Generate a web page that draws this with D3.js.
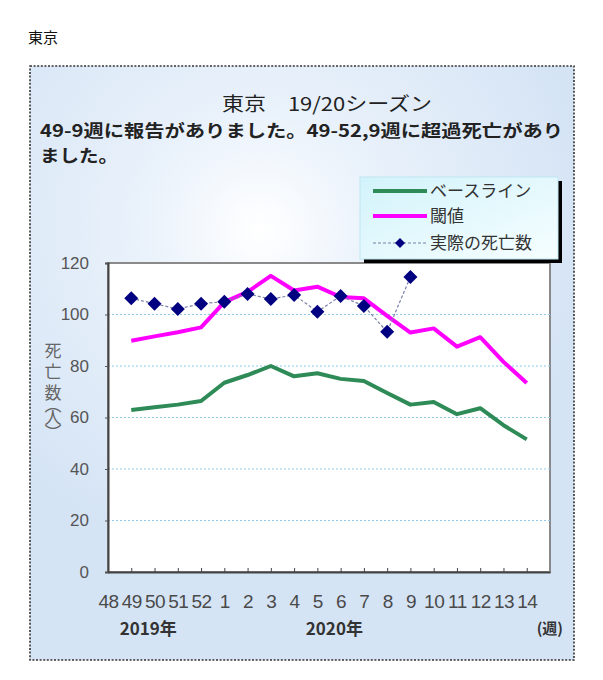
<!DOCTYPE html>
<html><head><meta charset="utf-8">
<script src="https://cdn.jsdelivr.net/npm/d3@7"></script>
<style>
html,body{margin:0;padding:0;background:#fff;}
svg{display:block;}
</style></head>
<body>
<svg id="chart" width="603" height="680"></svg>
<script>
// ---- data ----
const weeks = ["48","49","50","51","52","1","2","3","4","5","6","7","8","9","10","11","12","13","14"];
const baselineWeeks = ["49","50","51","52","1","2","3","4","5","6","7","8","9","10","11","12","13","14"];
const baselineValues = [62.9,64.0,65.0,66.4,73.5,76.5,80.0,76.0,77.2,75.0,74.2,69.5,65.0,66.0,61.3,63.6,57.0,51.5];
const thresholdValues = [89.8,91.5,93.1,95.0,104.8,108.8,115.0,109.3,110.8,106.8,106.3,99.5,93.0,94.6,87.5,91.2,81.6,73.4];
const actualWeeks = ["49","50","51","52","1","2","3","4","5","6","7","8","9"];
const actualValues = [106.3,104.2,102.1,104.2,105.0,108.0,106.0,107.6,101.1,107.2,103.3,93.3,114.6];
const yTicks = [0,20,40,60,80,100,120];
const seriesNames = ["ベースライン","閾値","実際の死亡数"];
const yearLabels = [{week:"49", text:"2019年"},{week:"5", text:"2020年"}];

const svg = d3.select("#chart");
const plot = {left:108, right:550, top:263, bottom:572};
const jp = "'Noto Sans CJK JP', sans-serif";
const num = "'Liberation Sans', Arial, sans-serif";

const defs = svg.append("defs");
const bg = defs.append("radialGradient").attr("id","bgGrad")
  .attr("gradientUnits","userSpaceOnUse").attr("cx",260).attr("cy",230).attr("r",330);
bg.append("stop").attr("offset","0").attr("stop-color","#ffffff");
bg.append("stop").attr("offset","0.35").attr("stop-color","#eaf2fb");
bg.append("stop").attr("offset","1").attr("stop-color","#d5e4f5");
const lg = defs.append("linearGradient").attr("id","legGrad").attr("x1","0").attr("y1","0").attr("x2","1").attr("y2","1");
lg.append("stop").attr("offset","0").attr("stop-color","#d2f3fb");
lg.append("stop").attr("offset","1").attr("stop-color","#f6feff");

// page heading
svg.append("text").attr("x",28).attr("y",43).attr("font-family",jp).attr("font-size",15)
  .attr("fill","#111").text("東京");

// chart box
svg.append("rect").attr("x",30).attr("y",66).attr("width",544).attr("height",594)
  .attr("fill","url(#bgGrad)").attr("stroke","#333").attr("stroke-width",1.6)
  .attr("stroke-dasharray","2,1.6");

// title and subtitle
svg.append("text").attr("x",327).attr("y",111).attr("text-anchor","middle")
  .attr("font-family",jp).attr("font-size",19).attr("fill","#222")
  .attr("textLength",210).attr("lengthAdjust","spacingAndGlyphs")
  .text("東京　19/20シーズン");
svg.append("text").attr("x",40).attr("y",137).attr("font-family",jp).attr("font-size",17)
  .attr("font-weight",700).attr("fill","#222")
  .attr("textLength",523).attr("lengthAdjust","spacingAndGlyphs")
  .text("49-9週に報告がありました。49-52,9週に超過死亡があり");
svg.append("text").attr("x",40).attr("y",162).attr("font-family",jp).attr("font-size",17)
  .attr("font-weight",700).attr("fill","#222")
  .attr("textLength",78).attr("lengthAdjust","spacingAndGlyphs").text("ました。");

// scales
const x = d3.scalePoint().domain(weeks).range([plot.left, plot.right]).padding(0.5).align(0);
const y = d3.scaleLinear().domain([0,120]).range([plot.bottom, plot.top]);

// plot area
svg.append("rect").attr("x",plot.left).attr("y",plot.top)
  .attr("width",plot.right-plot.left).attr("height",plot.bottom-plot.top)
  .attr("fill","#fff").attr("stroke","#8a8a8a").attr("stroke-width",2);

// gridlines
svg.append("g").selectAll("line").data(yTicks.filter(d=>d>0 && d<120)).join("line")
  .attr("x1",plot.left).attr("x2",plot.right).attr("y1",d=>y(d)).attr("y2",d=>y(d))
  .attr("stroke","#8fcbe8").attr("stroke-width",1).attr("stroke-dasharray","2,2");

// y axis
const yAxis = svg.append("g").attr("transform",`translate(${plot.left},0)`)
  .call(d3.axisLeft(y).tickValues(yTicks).tickSize(3).tickPadding(16));
yAxis.select(".domain").attr("stroke","#444").attr("stroke-width",2);
yAxis.selectAll(".tick line").attr("stroke","#555");
yAxis.selectAll(".tick text").attr("font-family",num).attr("font-size",17).attr("fill","#555");

// x axis
const xAxis = svg.append("g").attr("transform",`translate(0,${plot.bottom})`)
  .call(d3.axisBottom(x).tickSize(-4).tickPadding(23).tickSizeOuter(0));
xAxis.select(".domain").attr("stroke","#444").attr("stroke-width",2);
xAxis.selectAll(".tick line").attr("stroke","#444");
xAxis.selectAll(".tick text").attr("font-family",num).attr("font-size",19).attr("fill","#4a4a4a")
  .attr("letter-spacing","-0.5");

// year labels
svg.append("g").selectAll("text").data(yearLabels).join("text")
  .attr("x",d=>x(d.week)+17).attr("y",635).attr("text-anchor","middle")
  .attr("font-family",jp).attr("font-size",17).attr("font-weight",700).attr("fill","#333")
  .text(d=>d.text);
svg.append("text").attr("x",563).attr("y",634).attr("text-anchor","end")
  .attr("font-family",jp).attr("font-size",15).attr("font-weight",700).attr("fill","#333").text("(週)");

// y axis title (vertical text)
const yTitle = svg.append("text").attr("x",53).attr("y",342)
  .attr("font-family",jp).attr("font-size",17).attr("fill","#666")
  .style("writing-mode","vertical-rl").style("text-orientation","upright");
yTitle.append("tspan").attr("letter-spacing","4").text("死亡");
yTitle.append("tspan").attr("letter-spacing","-5").text("数");
yTitle.append("tspan").attr("letter-spacing","-4").text("（");
yTitle.append("tspan").attr("letter-spacing","-2").text("人");
yTitle.append("tspan").text("）");

// lines
const line = d3.line().x(d=>x(d.w)).y(d=>y(d.v));
const baseData = baselineWeeks.map((w,i)=>({w, v:baselineValues[i]}));
const threshData = baselineWeeks.map((w,i)=>({w, v:thresholdValues[i]}));
const actData = actualWeeks.map((w,i)=>({w, v:actualValues[i]}));

svg.append("path").datum(baseData).attr("d",line).attr("fill","none")
  .attr("stroke","#2e8b57").attr("stroke-width",4).attr("stroke-linejoin","round");
svg.append("path").datum(threshData).attr("d",line).attr("fill","none")
  .attr("stroke","#ff00ff").attr("stroke-width",4).attr("stroke-linejoin","round");
svg.append("path").datum(actData).attr("d",line).attr("fill","none")
  .attr("stroke","#7a80a8").attr("stroke-width",1.2).attr("stroke-dasharray","3,2");

const diamond = r => `M0,${-r}L${r},0L0,${r}L${-r},0Z`;
svg.append("g").selectAll("path").data(actData).join("path")
  .attr("transform",d=>`translate(${x(d.w)},${y(d.v)})`)
  .attr("d",diamond(7)).attr("fill","#000080");

// legend
const leg = svg.append("g");
leg.append("rect").attr("x",364).attr("y",181).attr("width",198).attr("height",82).attr("fill","#000");
leg.append("rect").attr("x",360).attr("y",177).attr("width",198).attr("height",82)
  .attr("fill","url(#legGrad)").attr("stroke","#bfe6f2").attr("stroke-width",1);
const rows = [191,216,243];
leg.append("line").attr("x1",373).attr("x2",427).attr("y1",rows[0]).attr("y2",rows[0])
  .attr("stroke","#2e8b57").attr("stroke-width",4);
leg.append("line").attr("x1",373).attr("x2",427).attr("y1",rows[1]).attr("y2",rows[1])
  .attr("stroke","#ff00ff").attr("stroke-width",4);
leg.append("line").attr("x1",373).attr("x2",427).attr("y1",rows[2]).attr("y2",rows[2])
  .attr("stroke","#7a80a8").attr("stroke-width",1.2).attr("stroke-dasharray","3,2");
leg.append("path").attr("transform",`translate(400,${rows[2]})`).attr("d",diamond(5)).attr("fill","#000080");
leg.selectAll("text").data(seriesNames).join("text")
  .attr("x",430).attr("y",(d,i)=>rows[i]+6)
  .attr("font-family",jp).attr("font-size",17).attr("fill","#333").text(d=>d);
</script>
</body></html>
